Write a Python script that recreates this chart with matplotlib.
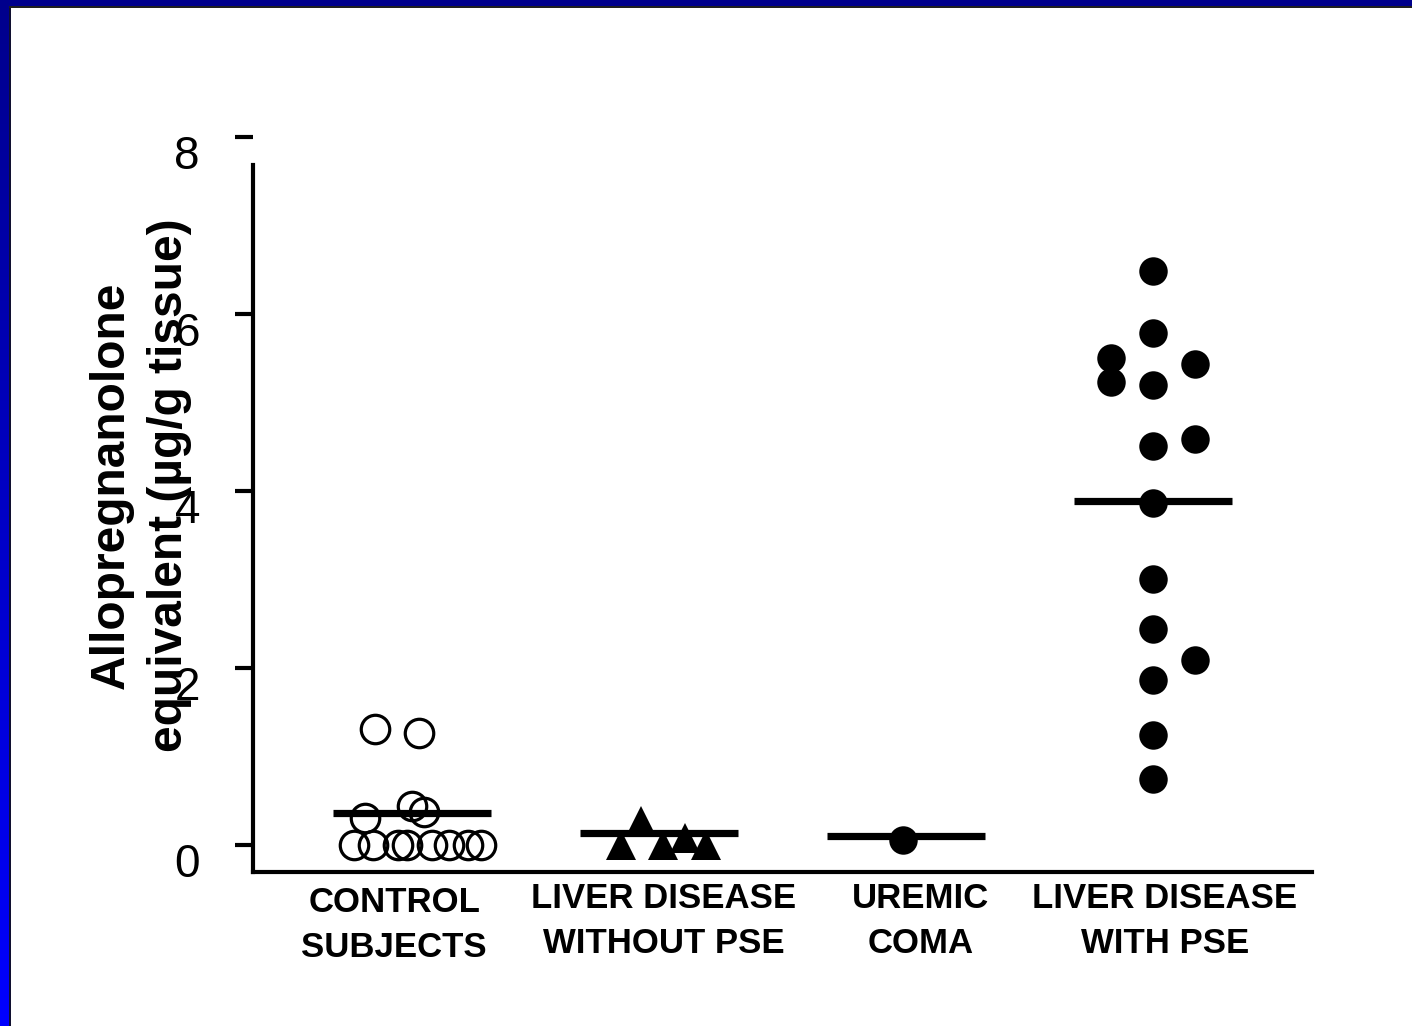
import numpy as np
import matplotlib
matplotlib.use("Agg")
import matplotlib.pyplot as plt
from matplotlib import transforms

plt.rcParams["font.family"] = ["Liberation Sans", "DejaVu Sans"]

# Groups and their labels
groups = ["CONTROL\nSUBJECTS", "LIVER DISEASE\nWITHOUT PSE", "UREMIC\nCOMA", "LIVER DISEASE\nWITH PSE"]
label_pos = [0.93, 2.02, 3.06, 4.05]

# Values (y) with their horizontal scatter (x offset)
control_y = [1.31, 1.27, 0.305, 0.44, 0.37, 0, 0, 0, 0, 0, 0, 0, 0]
control_dx = [-0.15, 0.03, -0.19, 0.0, 0.05, -0.235, -0.158, -0.057, -0.02, 0.081, 0.15, 0.227, 0.279]

nopse_y = [0.27, 0.0, 0.0, 0.08, 0.0]
nopse_dx = [-0.07, -0.154, 0.016, 0.105, 0.19]

uremic_y = [0.06]
uremic_dx = [-0.01]

pse_y = [6.49, 5.79, 5.50, 5.23, 5.43, 5.20, 4.59, 4.51, 3.86, 3.01, 2.44, 2.09, 1.86, 1.24, 0.75]
pse_dx = [0, 0, -0.17, -0.17, 0.17, 0, 0.17, 0, 0, 0, 0, 0.17, 0, 0, 0]

means = [0.36, 0.14, 0.10, 3.89]

yticks = [0, 2, 4, 6, 8]

fig = plt.figure(figsize=(14.12, 10.26), dpi=100)
fig.patch.set_facecolor("white")

# blue frame: gradient band on the left, navy band on top
band = fig.add_axes([0, 0, 9 / 1412, 1])
grad = np.linspace(0, 1, 256)
cols = np.zeros((256, 1, 3))
cols[:, 0, 2] = 0.55 + 0.45 * grad
band.imshow(cols, aspect="auto", origin="upper")
band.axis("off")
fig.add_artist(plt.Rectangle((9 / 1412, 0), 1.5 / 1412, 1, transform=fig.transFigure,
                             color="#101030", lw=0))
fig.add_artist(plt.Rectangle((0, 1 - 6 / 1026), 1, 6 / 1026, transform=fig.transFigure,
                             color="#00008c", lw=0))
fig.add_artist(plt.Rectangle((9 / 1412, 1 - 8 / 1026), 1, 2 / 1026, transform=fig.transFigure,
                             color="#202020", lw=0))

ax = fig.add_axes([253 / 1412, 154 / 1026, 1059 / 1412, 739.4 / 1026])
ax.set_xlim(0.358, 4.645)
ax.set_ylim(-0.305, 8.05)

pos = np.arange(1, 5)
ax.plot(pos[0] + np.array(control_dx), control_y, "o", ms=20.5, mfc="none",
        mec="black", mew=2.3, clip_on=False)
ax.plot(pos[1] + np.array(nopse_dx), nopse_y, "^", ms=21, color="black", mew=0)
ax.plot(pos[2] + np.array(uremic_dx), uremic_y, "o", ms=20.5, color="black", mew=0)
ax.plot(pos[3] + np.array(pse_dx), pse_y, "o", ms=20.5, color="black", mew=0)

ax.hlines(means, pos - 0.32, pos + 0.32, colors="black", lw=5.2, zorder=3)

for s in ["top", "right"]:
    ax.spines[s].set_visible(False)
ax.spines["left"].set_linewidth(3)
ax.spines["bottom"].set_linewidth(3)
ax.spines["left"].set_bounds(-0.305, 7.68)

ax.set_yticks(yticks)
ax.tick_params(axis="y", direction="out", length=13, width=3, labelleft=False)
ax.set_xticks([])

# tick labels sit a little below their ticks
ylab_tr = transforms.offset_copy(ax.get_yaxis_transform(), fig=fig, x=-53, y=-20, units="dots")
for v in yticks:
    ax.text(0, v, str(v), transform=ylab_tr, ha="right", va="center", fontsize=33)

xlab_tr = transforms.offset_copy(ax.get_xaxis_transform(), fig=fig, x=0, y=-10, units="dots")
for i, (g, p) in enumerate(zip(groups, label_pos)):
    dy = -4 if i == 0 else 0
    tr = transforms.offset_copy(xlab_tr, fig=fig, x=0, y=dy, units="dots")
    ax.text(p, 0, g, transform=tr, ha="center", va="top", fontsize=25,
            fontweight="bold", linespacing=1.45)

fig.text(140 / 1412, 1 - 485 / 1026, "Allopregnanolone\nequivalent (µg/g tissue)",
         rotation=90, ha="center", va="center", fontsize=34.5, fontweight="bold",
         linespacing=1.38)

fig.savefig("out.png", dpi=100)
